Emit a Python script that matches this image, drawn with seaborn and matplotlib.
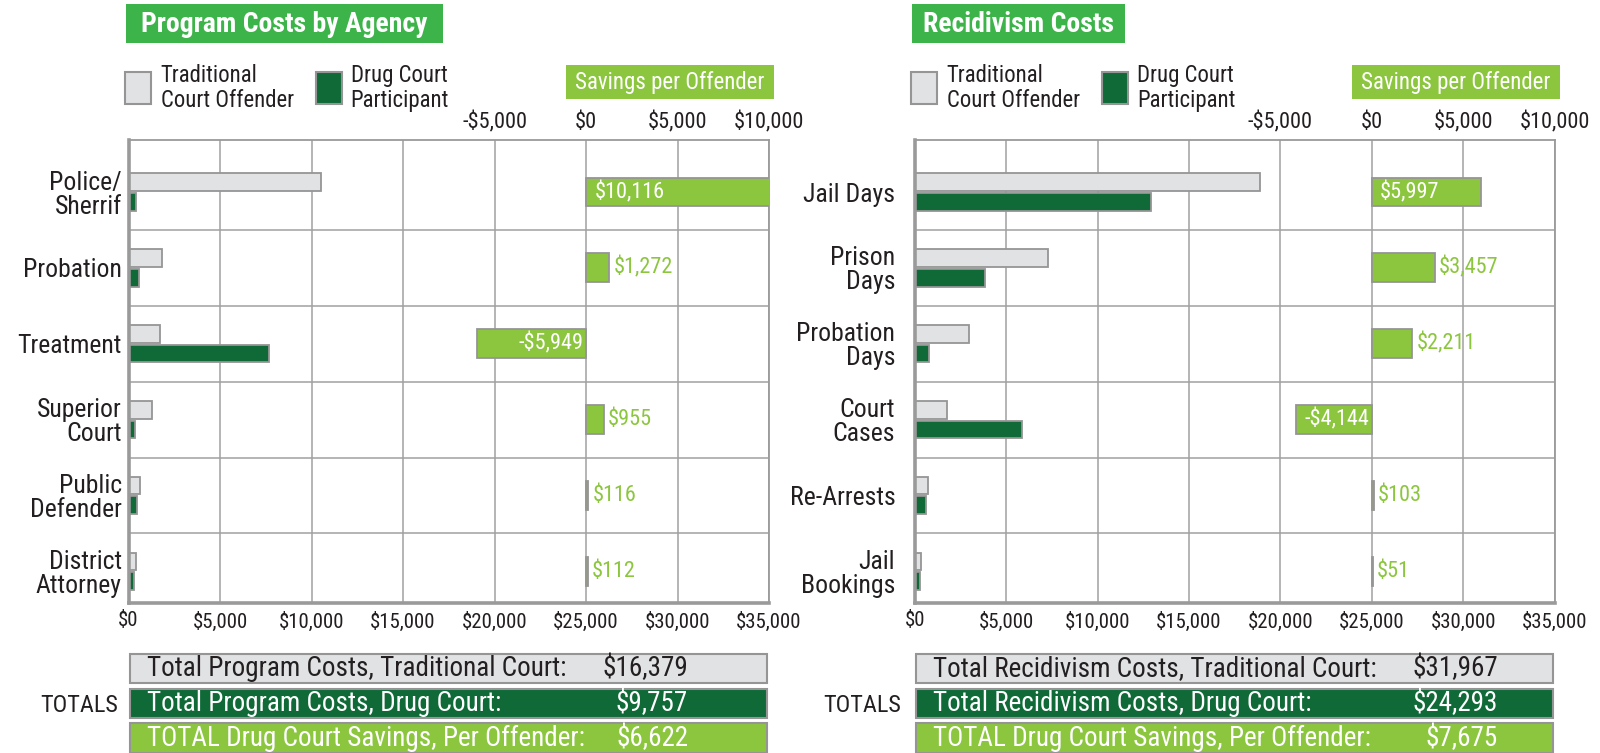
import matplotlib
matplotlib.use("Agg")
import matplotlib.pyplot as plt
from matplotlib.patches import Rectangle
from matplotlib import font_manager as fm
import numpy as np
import pandas as pd
import seaborn as sns

# ---------------- data ----------------
prog_categories = ["Police/\nSherrif", "Probation", "Treatment", "Superior\nCourt",
                   "Public\nDefender", "District\nAttorney"]
prog_traditional = [10500, 1850, 1730, 1300, 600, 400]
prog_drug_court = [384, 578, 7679, 345, 484, 288]
prog_savings = [10116, 1272, -5949, 955, 116, 112]

recid_categories = ["Jail Days", "Prison\nDays", "Probation\nDays", "Court\nCases",
                    "Re-Arrests", "Jail\nBookings"]
recid_traditional = [18900, 7270, 2990, 1740, 730, 338]
recid_drug_court = [12903, 3813, 779, 5884, 627, 287]
recid_savings = [5997, 3457, 2211, -4144, 103, 51]

cost_ticks = [0, 5000, 10000, 15000, 20000, 25000, 30000, 35000]
cost_tick_labels = ["$0", "$5,000", "$10,000", "$15,000", "$20,000", "$25,000", "$30,000", "$35,000"]
savings_ticks = [-5000, 0, 5000, 10000]
savings_tick_labels = ["-$5,000", "$0", "$5,000", "$10,000"]

titles = ["Program Costs by Agency", "Recidivism Costs"]
legend_labels = ["Traditional\nCourt Offender", "Drug Court\nParticipant"]
savings_header = "Savings per Offender"

prog_total_labels = ["Total Program Costs, Traditional Court:",
                     "Total Program Costs, Drug Court:",
                     "TOTAL Drug Court Savings, Per Offender:"]
prog_total_values = ["$16,379", "$9,757", "$6,622"]
recid_total_labels = ["Total Recidivism Costs, Traditional Court:",
                      "Total Recidivism Costs, Drug Court:",
                      "TOTAL Drug Court Savings, Per Offender:"]
recid_total_values = ["$31,967", "$24,293", "$7,675"]

# ---------------- style ----------------
GRAY_BAR = "#e1e2e4"
DARK_GREEN = "#0f6a38"
LIGHT_GREEN = "#8cc63f"
TITLE_GREEN = "#3db449"
EDGE = "#959595"
GRID = "#a0a0a0"
TXT = "#231f20"

sns.set_theme(style="white")

# pick a narrow sans face if one is installed
entries = fm.fontManager.ttflist
names = {f.name for f in entries}
FAMILY, STRETCH = ["DejaVu Sans"], "condensed"
for cand in ["Roboto Condensed", "Liberation Sans Narrow", "Open Sans Condensed",
             "Noto Sans Condensed"]:
    if cand in names:
        FAMILY, STRETCH = [cand, "DejaVu Sans"], "normal"
        break
else:
    for fam in ["Roboto", "Noto Sans", "Open Sans"]:
        if any(f.name == fam and f.stretch in ("condensed", "semi-condensed") for f in entries):
            FAMILY, STRETCH = [fam, "DejaVu Sans"], "condensed"
            break
plt.rcParams["font.family"] = FAMILY
plt.rcParams["font.stretch"] = STRETCH

W, H = 1600, 753
fig = plt.figure(figsize=(W / 100, H / 100), dpi=100)


def fx(x):
    return x / W


def fy(y):
    return 1 - y / H


def frect(x0, y0, x1, y1, fc, ec="none", lw=1.2):
    fig.add_artist(Rectangle((fx(x0), fy(y1)), fx(x1) - fx(x0), fy(y0) - fy(y1),
                             transform=fig.transFigure, facecolor=fc, edgecolor=ec, linewidth=lw))


def money(v):
    return ("-$" if v < 0 else "$") + f"{abs(v):,}"


CAT_FS = 18.5
VAL_FS = 16


def panel(ax_left, ax_right, cats, trad, drug, sav, title, title_w, tot_labels, tot_values,
          val_x, totals_x, ypad):
    top, bottom = 140, 603
    ax = fig.add_axes([fx(ax_left), fy(bottom), fx(ax_right) - fx(ax_left), fy(top) - fy(bottom)])
    df = pd.DataFrame({
        "category": cats * 2,
        "group": ["Traditional"] * len(cats) + ["Drug Court"] * len(cats),
        "value": list(trad) + list(drug),
    })
    sns.barplot(data=df, y="category", x="value", hue="group", order=cats,
                hue_order=["Traditional", "Drug Court"],
                palette={"Traditional": GRAY_BAR, "Drug Court": DARK_GREEN},
                orient="h", width=0.52, gap=0.1, errorbar=None, legend=False, saturation=1,
                edgecolor=EDGE, linewidth=1.3, ax=ax)
    ax.set_xlim(0, 35000)
    ax.set_xticks(cost_ticks)
    ax.set_xticklabels(cost_tick_labels, fontsize=15, color=TXT)
    ax.tick_params(axis="x", length=0, pad=6)
    ax.tick_params(axis="y", length=0, pad=ypad)
    ax.set_yticks(range(len(cats)))
    ax.set_yticklabels(cats, fontsize=CAT_FS, color=TXT, linespacing=1.0)
    ax.set_xlabel("")
    ax.set_ylabel("")
    ax.set_axisbelow(True)
    ax.grid(axis="x", color=GRID, linewidth=1.1)
    ax.grid(axis="y", visible=False)
    for k in range(len(cats) - 1):
        ax.axhline(k + 0.5, color=GRID, linewidth=1.1, zorder=0.5)
    for side, sp in ax.spines.items():
        sp.set_color("#9a9a9a")
        sp.set_linewidth(2.6 if side in ("left", "bottom") else 1.3)

    # savings axis on top (shares rows)
    ax2 = ax.twiny()
    sns.barplot(x=sav, y=cats, order=cats, orient="h", width=0.38, color=LIGHT_GREEN,
                saturation=1, errorbar=None, edgecolor=EDGE, linewidth=1.3, ax=ax2)
    ax2.set_xlim(-25000, 10000)
    ax2.set_xticks(savings_ticks)
    ax2.set_xticklabels(savings_tick_labels, fontsize=16, color=TXT)
    ax2.tick_params(axis="x", length=0, pad=5)
    ax2.set_xlabel("")
    ax2.set_ylabel("")
    for sp in ax2.spines.values():
        sp.set_visible(False)
    for i, v in enumerate(sav):
        if abs(v) > 4000:
            if v > 0:
                ax2.annotate(money(v), (0, i), xytext=(6, 0), textcoords="offset points",
                             ha="left", va="center", color="white", fontsize=VAL_FS)
            else:
                ax2.annotate(money(v), (0, i), xytext=(-2, 0), textcoords="offset points",
                             ha="right", va="center", color="white", fontsize=VAL_FS)
        else:
            ax2.annotate(money(v), (v, i), xytext=(3, 0), textcoords="offset points",
                         ha="left", va="center", color=LIGHT_GREEN, fontsize=VAL_FS)
    ax.set_ylim(len(cats) - 1 + 0.418, -0.686)

    # title box
    frect(ax_left - 3, 4, ax_left - 3 + title_w, 43, TITLE_GREEN)
    fig.text(fx(ax_left - 3 + title_w / 2), fy(24), title, color="white", fontsize=20,
             fontweight="bold", ha="center", va="center")
    # legend
    frect(ax_left - 4, 72, ax_left + 22, 104, GRAY_BAR, EDGE, 1.5)
    fig.text(fx(ax_left + 32), fy(88), legend_labels[0], fontsize=16.4, color=TXT, ha="left",
             va="center", linespacing=1.1)
    frect(ax_left + 187, 72, ax_left + 213, 104, DARK_GREEN, EDGE, 1.5)
    fig.text(fx(ax_left + 222), fy(88), legend_labels[1], fontsize=16.4, color=TXT, ha="left",
             va="center", linespacing=1.1)
    # savings header
    frect(ax_left + 437, 65, ax_left + 645, 99, LIGHT_GREEN)
    fig.text(fx(ax_left + 541), fy(82), savings_header, fontsize=16.5, color="white",
             ha="center", va="center")
    # totals
    rows = [(654, 683, GRAY_BAR, TXT), (689, 718, DARK_GREEN, "white"),
            (723, 753, LIGHT_GREEN, "white")]
    for (y0, y1, fc, tc), lab, val in zip(rows, tot_labels, tot_values):
        frect(ax_left + 1, y0, ax_right - 2, y1, fc, EDGE, 1.5)
        fig.text(fx(ax_left + 18), fy((y0 + y1) / 2), lab, fontsize=19.5, color=tc,
                 ha="left", va="center")
        fig.text(fx(val_x), fy((y0 + y1) / 2), val, fontsize=19.5, color=tc,
                 ha="right", va="center")
    fig.text(fx(totals_x), fy(705), "TOTALS", fontsize=17.5, color=TXT, ha="right", va="center")


panel(128.6, 769, prog_categories, prog_traditional, prog_drug_court, prog_savings,
      titles[0], 317, prog_total_labels, prog_total_values, 688, 118, 5)
panel(914.8, 1554.6, recid_categories, recid_traditional, recid_drug_court, recid_savings,
      titles[1], 213, recid_total_labels, recid_total_values, 1498, 901, 14)

fig.savefig("out.png", dpi=100)
